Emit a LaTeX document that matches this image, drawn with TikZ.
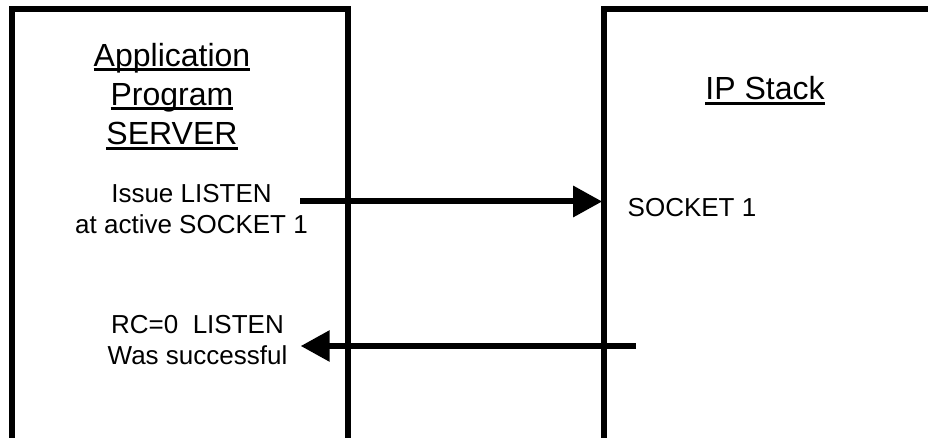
\documentclass[tikz,border=0pt]{standalone}
\usepackage{fontspec}
\setmainfont{Liberation Sans}
\usetikzlibrary{arrows.meta}

% underline at a fixed depth below the baseline
\newcommand{\titleul}[1]{\setbox0\hbox{#1}\rlap{\rule[-4.8pt]{\wd0}{2.8pt}}\box0}

\tikzset{
  party/.style={draw, line width=6pt, rectangle, inner sep=0pt, outer sep=0pt, anchor=north west},
  title/.style={font=\fontsize{32}{39}\selectfont, anchor=base, inner sep=0pt},
  msg/.style={font=\fontsize{26}{31}\selectfont, anchor=base, inner sep=0pt},
  flow/.style={line width=6pt, -{Triangle[length=29pt,width=30pt]}}
}

\begin{document}
\begin{tikzpicture}[x=1pt, y=-1pt]
  \useasboundingbox (0,0) rectangle (928,438);
  \clip (0,0) rectangle (928,438);

  % the two parties, open below the visible area
  \node[party, minimum width=336pt, minimum height=470pt] (app) at (12,9.5) {};
  \node[party, minimum width=360pt, minimum height=470pt] (ip) at (603.7,9.5) {};

  % headings
  \node[title] (t1) at (172,66.5) {\titleul{Application}};
  \node[title] (t2) at (172,105.5) {\titleul{Program}};
  \node[title] (t3) at (172,145) {\titleul{SERVER}};
  \node[title] (t4) at (765,100) {\titleul{IP Stack}};

  % messages
  \node[msg] (m1) at (191.5,202.3) {Issue LISTEN};
  \node[msg] (m2) at (191.5,233.3) {at active SOCKET 1};
  \node[msg, anchor=base west] (s1) at (627.5,217) {SOCKET 1};
  \node[msg] (r1) at (197.5,333) {RC=0\ \ LISTEN};
  \node[msg] (r2) at (197.5,364) {Was successful};

  % LISTEN request and its return code
  \coordinate (reqstart) at (300,201.5);
  \draw[flow] (reqstart) -- ([xshift=-1.5pt]reqstart -| ip.west);
  \coordinate (rcstart) at (636,346);
  \coordinate (rcend) at (300.7,346);
  \draw[flow] (rcstart) -- (rcend);
\end{tikzpicture}
\end{document}
